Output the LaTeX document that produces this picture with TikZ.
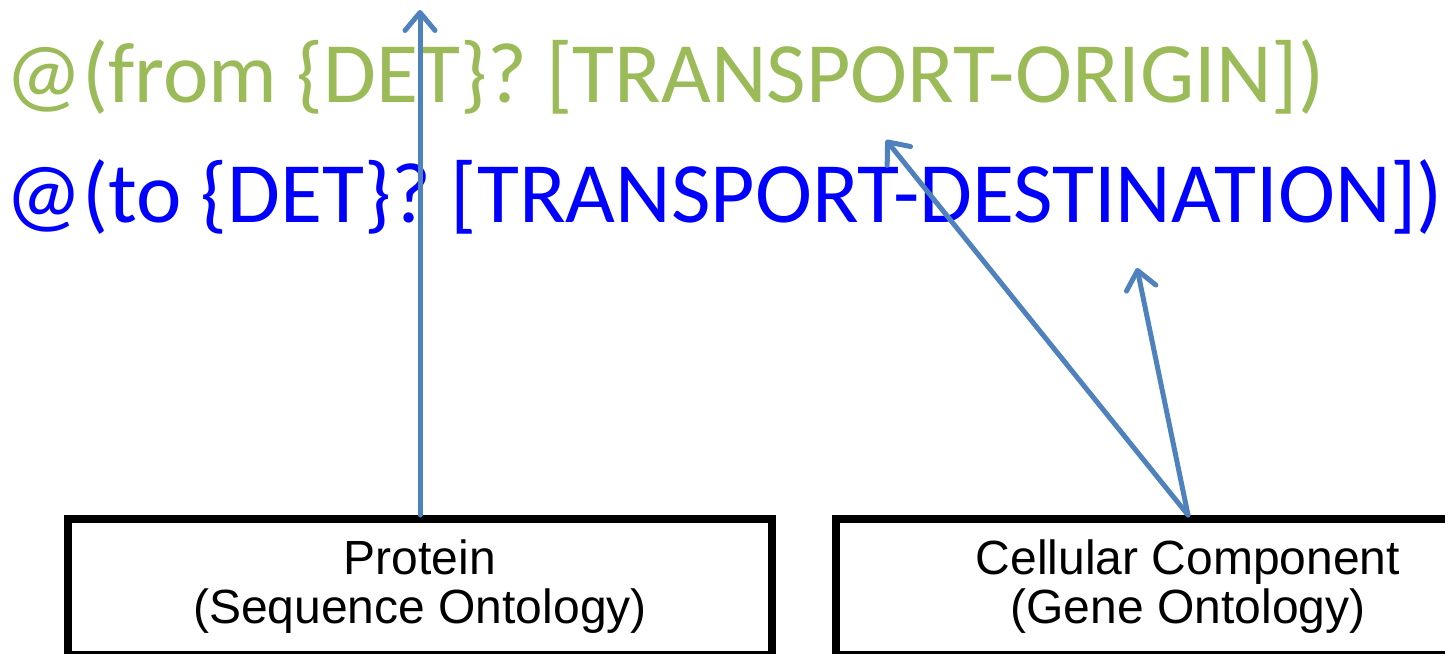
\documentclass[tikz,border=0pt]{standalone}
\usepackage{fontspec}
\setmainfont{Carlito}
\newfontfamily\arialfont{Liberation Sans}
\usepackage{tikz}
\usetikzlibrary{arrows.meta}

\definecolor{origgreen}{HTML}{9BBB59}
\definecolor{destblue}{HTML}{0000FF}
\definecolor{linkblue}{HTML}{4F81BD}

\tikzset{
  pattern/.style={anchor=base west,inner sep=0pt,font=\fontsize{86}{86}\selectfont},
  ontobox/.style={draw=black,line width=8pt,minimum width=704pt,minimum height=136pt,
    align=center,font=\arialfont\fontsize{48}{49}\selectfont},
  link/.style={draw=linkblue,line width=5pt,line cap=round,
    -{Straight Barb[length=18pt,width=30pt,round]}}
}

\begin{document}
\begin{tikzpicture}[x=1pt,y=-1pt]
          \useasboundingbox (0,0) rectangle (1445,653);
          \begin{scope}
          \clip (0,0) rectangle (1445,653);
          \node[pattern,text=origgreen] (from) at (5,102) {@(from \{DET\}? [TRANSPORT-ORIGIN])};
          \node[pattern,text=destblue] (to) at (5,222) {@(to \{DET\}? [TRANSPORT-DESTINATION])};
          \node[ontobox] (protein) at (420,587) {Protein\\(Sequence Ontology)};
          \node[ontobox] (cellcomp) at (1188,587) {Cellular Component\\(Gene Ontology)};
          \end{scope}
          \coordinate (top) at (420,10);
          \coordinate (origin) at (886,140);
          \coordinate (dest) at (1137,268);
          \draw[link] (protein.north) -- (top);
          \draw[link] (cellcomp.north) -- (origin);
          \draw[link] (cellcomp.north) -- (dest);
        \end{tikzpicture}
\end{document}
